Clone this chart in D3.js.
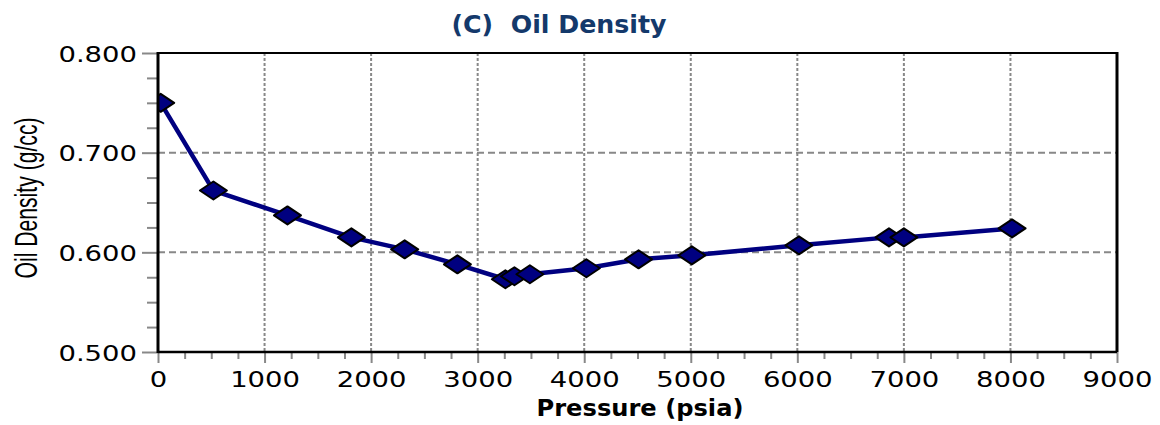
<!DOCTYPE html>
<html>
<head>
    <script src="https://d3js.org/d3.v7.min.js"></script>
    <style>
        body { margin: 0; background: #fff; }
    </style>
</head>
<body>
    <div id="chart"></div>
    <script>
        // data
        const pressure = [25, 520, 1215, 1815, 2315, 2810, 3260, 3345, 3490, 4020, 4510, 5010, 6015, 6860, 7000, 8015];
        const density = [0.750, 0.662, 0.637, 0.615, 0.603, 0.588, 0.573, 0.576, 0.578, 0.584, 0.593, 0.597, 0.607, 0.615, 0.615, 0.624];
        const xTicks = [0, 1000, 2000, 3000, 4000, 5000, 6000, 7000, 8000, 9000];
        const yTicks = [0.5, 0.6, 0.7, 0.8];
        const titleText = "(C)  Oil Density";
        const xLabel = "Pressure (psia)";
        const yLabel = "Oil Density (g/cc)";

        const points = pressure.map((p, i) => ({ p: p, d: density[i] }));

        const margin = { top: 53, right: 43, bottom: 73, left: 158 },
            width = 1160 - margin.left - margin.right,
            height = 425 - margin.top - margin.bottom;

        const svg = d3.select("#chart").append("svg")
            .attr("width", 1160)
            .attr("height", 425);

        const g = svg.append("g")
            .attr("transform", `translate(${margin.left},${margin.top})`);

        const x = d3.scaleLinear().domain([0, 9000]).range([0, width]);
        const y = d3.scaleLinear().domain([0.5, 0.8]).range([height, 0]);

        const tickScale = 1.34;

        // grid lines
        g.append("g").selectAll("line")
            .data(xTicks.filter(t => t > 0 && t < 9000))
            .enter().append("line")
            .attr("x1", d => x(d)).attr("x2", d => x(d))
            .attr("y1", 0).attr("y2", height)
            .attr("stroke", "#888").attr("stroke-width", 2)
            .attr("stroke-dasharray", "3,2");

        g.append("g").selectAll("line")
            .data(yTicks.filter(t => t > 0.5 && t < 0.8))
            .enter().append("line")
            .attr("x1", 0).attr("x2", width)
            .attr("y1", d => y(d)).attr("y2", d => y(d))
            .attr("stroke", "#888").attr("stroke-width", 2)
            .attr("stroke-dasharray", "7,4");

        // minor ticks
        const minorX = d3.range(0, 9001, 250).filter(t => t % 1000 !== 0);
        const minorY = d3.range(0, 13).map(i => 0.5 + i * 0.025).filter(t => Math.abs(t * 10 - Math.round(t * 10)) > 1e-6);

        g.append("g")
            .attr("transform", `translate(0,${height})`)
            .call(d3.axisBottom(x).tickValues(minorX).tickSize(7).tickFormat(""))
            .call(a => a.select(".domain").remove())
            .selectAll("line").attr("stroke", "#888").attr("stroke-width", 2);

        g.append("g")
            .call(d3.axisLeft(y).tickValues(minorY).tickSize(11).tickFormat(""))
            .call(a => a.select(".domain").remove())
            .selectAll("line").attr("stroke", "#888").attr("stroke-width", 2);

        // major ticks + labels
        const xAxis = g.append("g")
            .attr("transform", `translate(0,${height})`)
            .call(d3.axisBottom(x).tickValues(xTicks).tickSize(11).tickFormat(d3.format("d")));
        xAxis.select(".domain").remove();
        xAxis.selectAll("line").attr("stroke", "#888").attr("stroke-width", 2);
        xAxis.selectAll("text")
            .attr("font-family", "DejaVu Sans")
            .attr("font-size", 20.5)
            .attr("fill", "#000")
            .attr("y", 20)
            .attr("transform", `scale(${tickScale},1)`);

        const yAxis = g.append("g")
            .call(d3.axisLeft(y).tickValues(yTicks).tickSize(16).tickFormat(d3.format(".3f")));
        yAxis.select(".domain").remove();
        yAxis.selectAll("line").attr("stroke", "#888").attr("stroke-width", 2);
        yAxis.selectAll("text")
            .attr("font-family", "DejaVu Sans")
            .attr("font-size", 20.5)
            .attr("fill", "#000")
            .attr("x", -21 / tickScale)
            .attr("dy", "0.4em")
            .attr("transform", `scale(${tickScale},1)`);

        // clip for the series
        svg.append("defs").append("clipPath").attr("id", "plotClip")
            .append("rect").attr("x", 0).attr("y", 0).attr("width", width).attr("height", height);

        const series = g.append("g").attr("clip-path", "url(#plotClip)");

        series.append("path")
            .datum(points)
            .attr("fill", "none")
            .attr("stroke", "#000080")
            .attr("stroke-width", 4.5)
            .attr("stroke-linejoin", "round")
            .attr("d", d3.line().x(d => x(d.p)).y(d => y(d.d)));

        series.selectAll(".marker")
            .data(points)
            .enter().append("path")
            .attr("class", "marker")
            .attr("transform", d => `translate(${x(d.p)},${y(d.d)})`)
            .attr("d", "M-13.5,0L0,-9L13.5,0L0,9Z")
            .attr("fill", "#000080")
            .attr("stroke", "#000")
            .attr("stroke-width", 2)
            .attr("stroke-linejoin", "round");

        // frame
        g.append("line").attr("x1", 0).attr("x2", width).attr("y1", 0).attr("y2", 0)
            .attr("stroke", "#000").attr("stroke-width", 2);
        g.append("line").attr("x1", width).attr("x2", width).attr("y1", -1).attr("y2", height)
            .attr("stroke", "#000").attr("stroke-width", 3);
        g.append("line").attr("x1", 0).attr("x2", width).attr("y1", height).attr("y2", height)
            .attr("stroke", "#000").attr("stroke-width", 2.5);
        g.append("line").attr("x1", 0).attr("x2", 0).attr("y1", -1).attr("y2", height + 1)
            .attr("stroke", "#000").attr("stroke-width", 3);

        // titles
        svg.append("text")
            .attr("x", 559).attr("y", 33)
            .attr("text-anchor", "middle")
            .attr("font-family", "DejaVu Sans")
            .attr("font-weight", "bold")
            .attr("font-size", 24)
            .attr("fill", "#14396b")
            .attr("textLength", 215)
            .attr("lengthAdjust", "spacingAndGlyphs")
            .style("white-space", "pre")
            .text(titleText);

        svg.append("text")
            .attr("x", 640).attr("y", 416)
            .attr("text-anchor", "middle")
            .attr("font-family", "DejaVu Sans")
            .attr("font-weight", "bold")
            .attr("font-size", 23)
            .attr("fill", "#000")
            .attr("textLength", 207)
            .attr("lengthAdjust", "spacingAndGlyphs")
            .text(xLabel);

        svg.append("text")
            .attr("transform", "translate(37,198) rotate(-90)")
            .attr("text-anchor", "middle")
            .attr("font-family", "Liberation Sans Narrow, Liberation Sans, sans-serif")
            .attr("font-size", 32)
            .attr("fill", "#000")
            .attr("textLength", 161)
            .attr("lengthAdjust", "spacingAndGlyphs")
            .text(yLabel);
    </script>
</body>
</html>
